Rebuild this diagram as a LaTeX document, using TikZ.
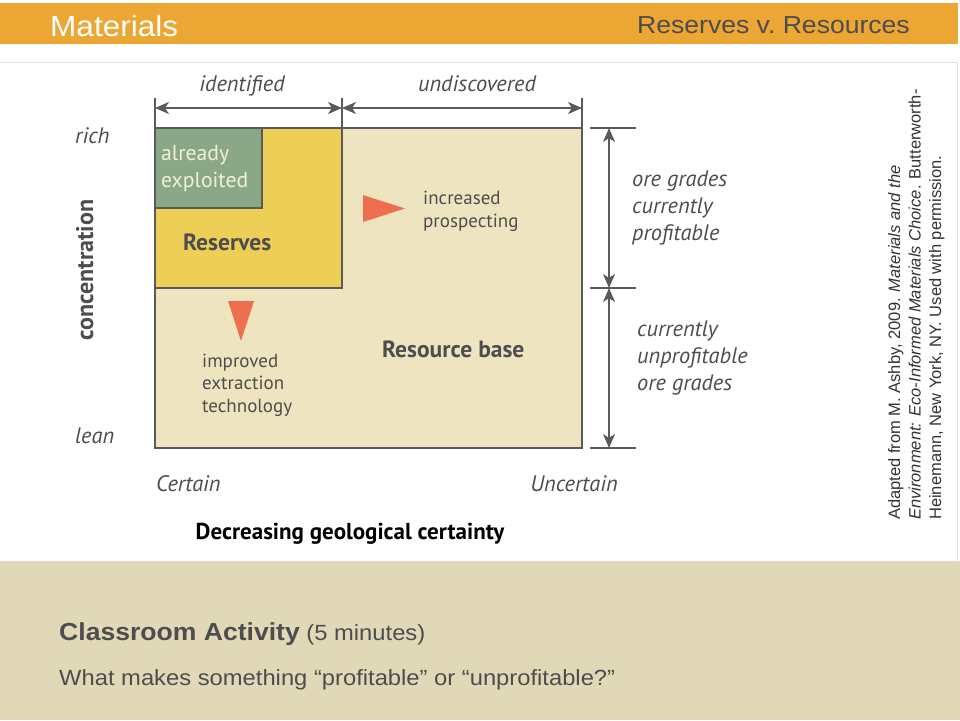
\documentclass[tikz,border=0pt]{standalone}
\usepackage{fontspec}
\usepackage{tikz}
\usetikzlibrary{arrows.meta}
\newfontfamily\dgfont{PT Sans}
\newfontfamily\hdfont[FakeStretch=1.08]{Liberation Sans}
\newfontfamily\citefont{Liberation Sans}
\definecolor{orangebar}{HTML}{ECA634}
\definecolor{greenbox}{HTML}{8AA787}
\definecolor{yellowbox}{HTML}{EDCF57}
\definecolor{beigebox}{HTML}{EEE5C0}
\definecolor{edgegray}{HTML}{5A5A58}
\definecolor{coralfill}{HTML}{EE6F4F}
\definecolor{txtgray}{HTML}{4D4D4F}
\definecolor{panelbeige}{HTML}{E0D8B6}
\definecolor{creamtxt}{HTML}{F3EED8}
\newcommand{\fs}[2]{\fontsize{#1}{#2}\selectfont}

\begin{document}
\begin{tikzpicture}[x=1pt,y=-1pt,
    lbl/.style={inner sep=0pt,text=txtgray,font=\dgfont\fs{21.7}{27},align=left},
    ilbl/.style={lbl,font=\dgfont\itshape\fs{22.4}{27}},
    blbl/.style={lbl,font=\dgfont\bfseries\fs{23.5}{27}},
    slbl/.style={lbl,font=\dgfont\fs{19}{22.5}},
    dimline/.style={draw=edgegray,line width=1.8pt,{Stealth[length=14pt,width=12pt,inset=4pt]}-{Stealth[length=14pt,width=12pt,inset=4pt]}},
    tickline/.style={draw=edgegray,line width=1.2pt},
    tri/.style={fill=coralfill,draw=none},
    region/.style={draw=edgegray,line width=1.5pt}]
  \useasboundingbox (0,0) rectangle (960,720);
  \fill[white] (0,0) rectangle (960,720);
  % header and panels
  \fill[orangebar] (0,3) rectangle (958,44);
  \draw[black!12,line width=1pt] (0,62) -- (957,62) -- (957,561);
  \fill[panelbeige] (0,561) rectangle (960,720);
  \node[anchor=base west,inner sep=0pt,text=white,font=\hdfont\fs{29.2}{34}] (title) at (50,36) {Materials};
  \node[anchor=base east,inner sep=0pt,text=txtgray,font=\hdfont\fs{24.6}{30}] (topic) at (910,33) {Reserves v.\ Resources};

  % regions
  \filldraw[region,fill=beigebox] (155,128) rectangle (582,448);
  \filldraw[region,fill=yellowbox] (155,128) rectangle (342,288);
  \filldraw[region,fill=greenbox] (155,128) rectangle (262,208);
  \fill[tri] (363,195) -- (405,208.5) -- (363,222) -- cycle;
  \fill[tri] (228,301) -- (254,301) -- (241,341) -- cycle;

  \coordinate (ta) at (155,108);
  \coordinate (tb) at (342,108);
  \coordinate (tc) at (582,108);
  \coordinate (ra) at (609,128);
  \coordinate (rb) at (609,288);
  \coordinate (rc) at (609,448);
  \foreach \c in {ta,tb,tc}
    \draw[tickline] ([yshift=-35pt]\c) -- ([yshift=10pt]\c);
  \foreach \c in {ra,rb,rc}
    \draw[tickline] ([xshift=-19pt]\c) -- ([xshift=27pt]\c);
  \path[dimline] (ta) -- (tb);
  \path[dimline] (tb) -- (tc);
  \path[dimline] (ra) -- (rb);
  \path[dimline] (rb) -- (rc);

  \node[ilbl,anchor=base] (ident) at (242,91) {identified};
  \node[ilbl,anchor=base] (undisc) at (477,91) {undiscovered};
  \node[ilbl,anchor=base west] (rich) at (75,143) {rich};
  \node[ilbl,anchor=base west] (lean) at (75,443) {lean};
  \node[blbl,anchor=base,rotate=90,font=\dgfont\bfseries\fs{24}{27}] (conc) at (93,270) {concentration};
  \node[ilbl,anchor=base west] (certain) at (156,491) {Certain};
  \node[ilbl,anchor=base east] (uncertain) at (618,491) {Uncertain};
  \node[blbl,anchor=base,text=black,font=\dgfont\bfseries\fs{23}{27}] (axis) at (350,539) {Decreasing geological certainty};
  % multi-line labels sit on their last baseline
  \node[lbl,anchor=base west,text=creamtxt] (expl) at (161,187) {already\\exploited};
  \node[blbl,anchor=base west] (reserves) at (183,250) {Reserves};
  \node[slbl,anchor=base west] (prosp) at (423,227) {increased\\prospecting};
  \node[blbl,anchor=base west] (rbase) at (382,357) {Resource base};
  \node[slbl,anchor=base west] (extr) at (202,412) {improved\\extraction\\technology};
  \node[ilbl,anchor=base west] (profit) at (632,240) {ore grades\\currently\\profitable};
  \node[ilbl,anchor=base west] (unprofit) at (637,390) {currently\\unprofitable\\ore grades};

  \node[anchor=north west,rotate=90,inner sep=0pt,align=left,text=black!80,font=\citefont\fs{16.5}{20.5}] (cite) at (888,520)
    {Adapted from M. Ashby, 2009. \textit{Materials and the}\\
     \textit{Environment: Eco-Informed Materials Choice}. Butterworth-\\
     Heinemann, New York, NY. Used with permission.};

  \node[anchor=base west,inner sep=0pt,text=txtgray,font=\hdfont\fs{22}{26}] (act) at (59,640)
    {{\bfseries\fs{24.6}{30}Classroom Activity} (5 minutes)};
  \node[anchor=base west,inner sep=0pt,text=txtgray,font=\hdfont\fs{22}{26}] (quest) at (59,685)
    {What makes something “profitable” or “unprofitable?”};
\end{tikzpicture}
\end{document}
